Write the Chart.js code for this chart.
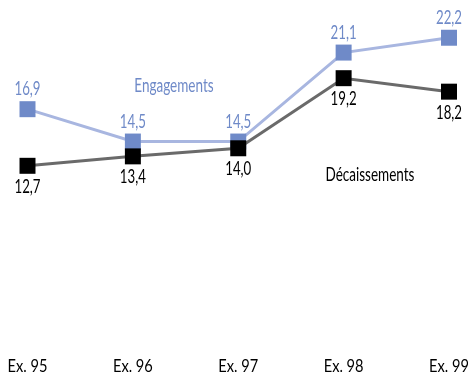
<!DOCTYPE html>
<html>
<head>
<meta charset="utf-8">
<script src="https://cdn.jsdelivr.net/npm/chart.js@4/dist/chart.umd.min.js"></script>
<style>
  html, body { margin: 0; padding: 0; background: #fff; }
  #wrap { width: 468px; height: 373px; }
</style>
</head>
<body>
<div id="wrap"><canvas id="chart"></canvas></div>
<script>
var labels = ['Ex. 95', 'Ex. 96', 'Ex. 97', 'Ex. 98', 'Ex. 99'];
var engagements = [16.9, 14.5, 14.5, 21.1, 22.2];
var decaissements = [12.7, 13.4, 14.0, 19.2, 18.2];
var seriesNames = ['Engagements', 'Décaissements'];

var FONT = 'Lato, "DejaVu Sans", sans-serif';
var BLUE = '#6f8ac8';
var BLUE_LINE = '#a8b6e0';

function fmt(v) {
    return v.toFixed(1).replace('.', ',');
}

// condensed text: draw with a horizontal squeeze around x
function squeezed(ctx, text, x, y, size, sx, color) {
    ctx.save();
    ctx.font = size + 'px ' + FONT;
    ctx.fillStyle = color;
    ctx.textAlign = 'center';
    ctx.textBaseline = 'alphabetic';
    ctx.translate(x, y);
    ctx.scale(sx, 1);
    ctx.fillText(text, 0, 0);
    ctx.restore();
}

var textLayer = {
    id: 'textLayer',
    afterDatasetsDraw: function (chart) {
        var ctx = chart.ctx;
        var xs = chart.scales.x, ys = chart.scales.y;
        var area = chart.chartArea;

        // category labels under the plot
        labels.forEach(function (lab, i) {
            squeezed(ctx, lab, xs.getPixelForTick(i), area.bottom + 35, 17, 0.86, '#000');
        });

        // values above (engagements) and below (décaissements) each point
        chart.data.datasets.forEach(function (ds, di) {
            var meta = chart.getDatasetMeta(di);
            meta.data.forEach(function (pt, i) {
                squeezed(ctx, fmt(ds.data[i]), pt.x, pt.y + ds.labelOffset, 19.5, 0.68, ds.labelColor);
            });
        });

        // series names
        squeezed(ctx, seriesNames[0], xs.getPixelForValue(1.39), ys.getPixelForValue(18.2), 18.5, 0.73, BLUE);
        squeezed(ctx, seriesNames[1], xs.getPixelForValue(3.25), ys.getPixelForValue(11.6), 18.5, 0.73, '#000');
    }
};

new Chart(document.getElementById('chart'), {
    type: 'line',
    data: {
        labels: labels,
        datasets: [
            {
                label: seriesNames[0],
                data: engagements,
                borderColor: BLUE_LINE,
                borderWidth: 3,
                pointStyle: 'rect',
                pointRadius: 11.3,
                pointBackgroundColor: BLUE,
                pointBorderWidth: 0,
                labelColor: BLUE,
                labelOffset: -14,
                order: 2
            },
            {
                label: seriesNames[1],
                data: decaissements,
                borderColor: '#6a6a6a',
                borderWidth: 3,
                pointStyle: 'rect',
                pointRadius: 11.3,
                pointBackgroundColor: '#000',
                pointBorderWidth: 0,
                labelColor: '#000',
                labelOffset: 27,
                order: 1
            }
        ]
    },
    options: {
        responsive: true,
        maintainAspectRatio: false,
        animation: false,
        clip: false,
        layout: {
            autoPadding: false,
            padding: { left: 27.5, right: 19, top: 0, bottom: 36 }
        },
        plugins: {
            legend: { display: false },
            tooltip: { enabled: false }
        },
        scales: {
            x: {
                display: false,
                offset: false
            },
            y: {
                display: false,
                min: 0,
                max: 25
            }
        }
    },
    plugins: [textLayer]
});
</script>
</body>
</html>
